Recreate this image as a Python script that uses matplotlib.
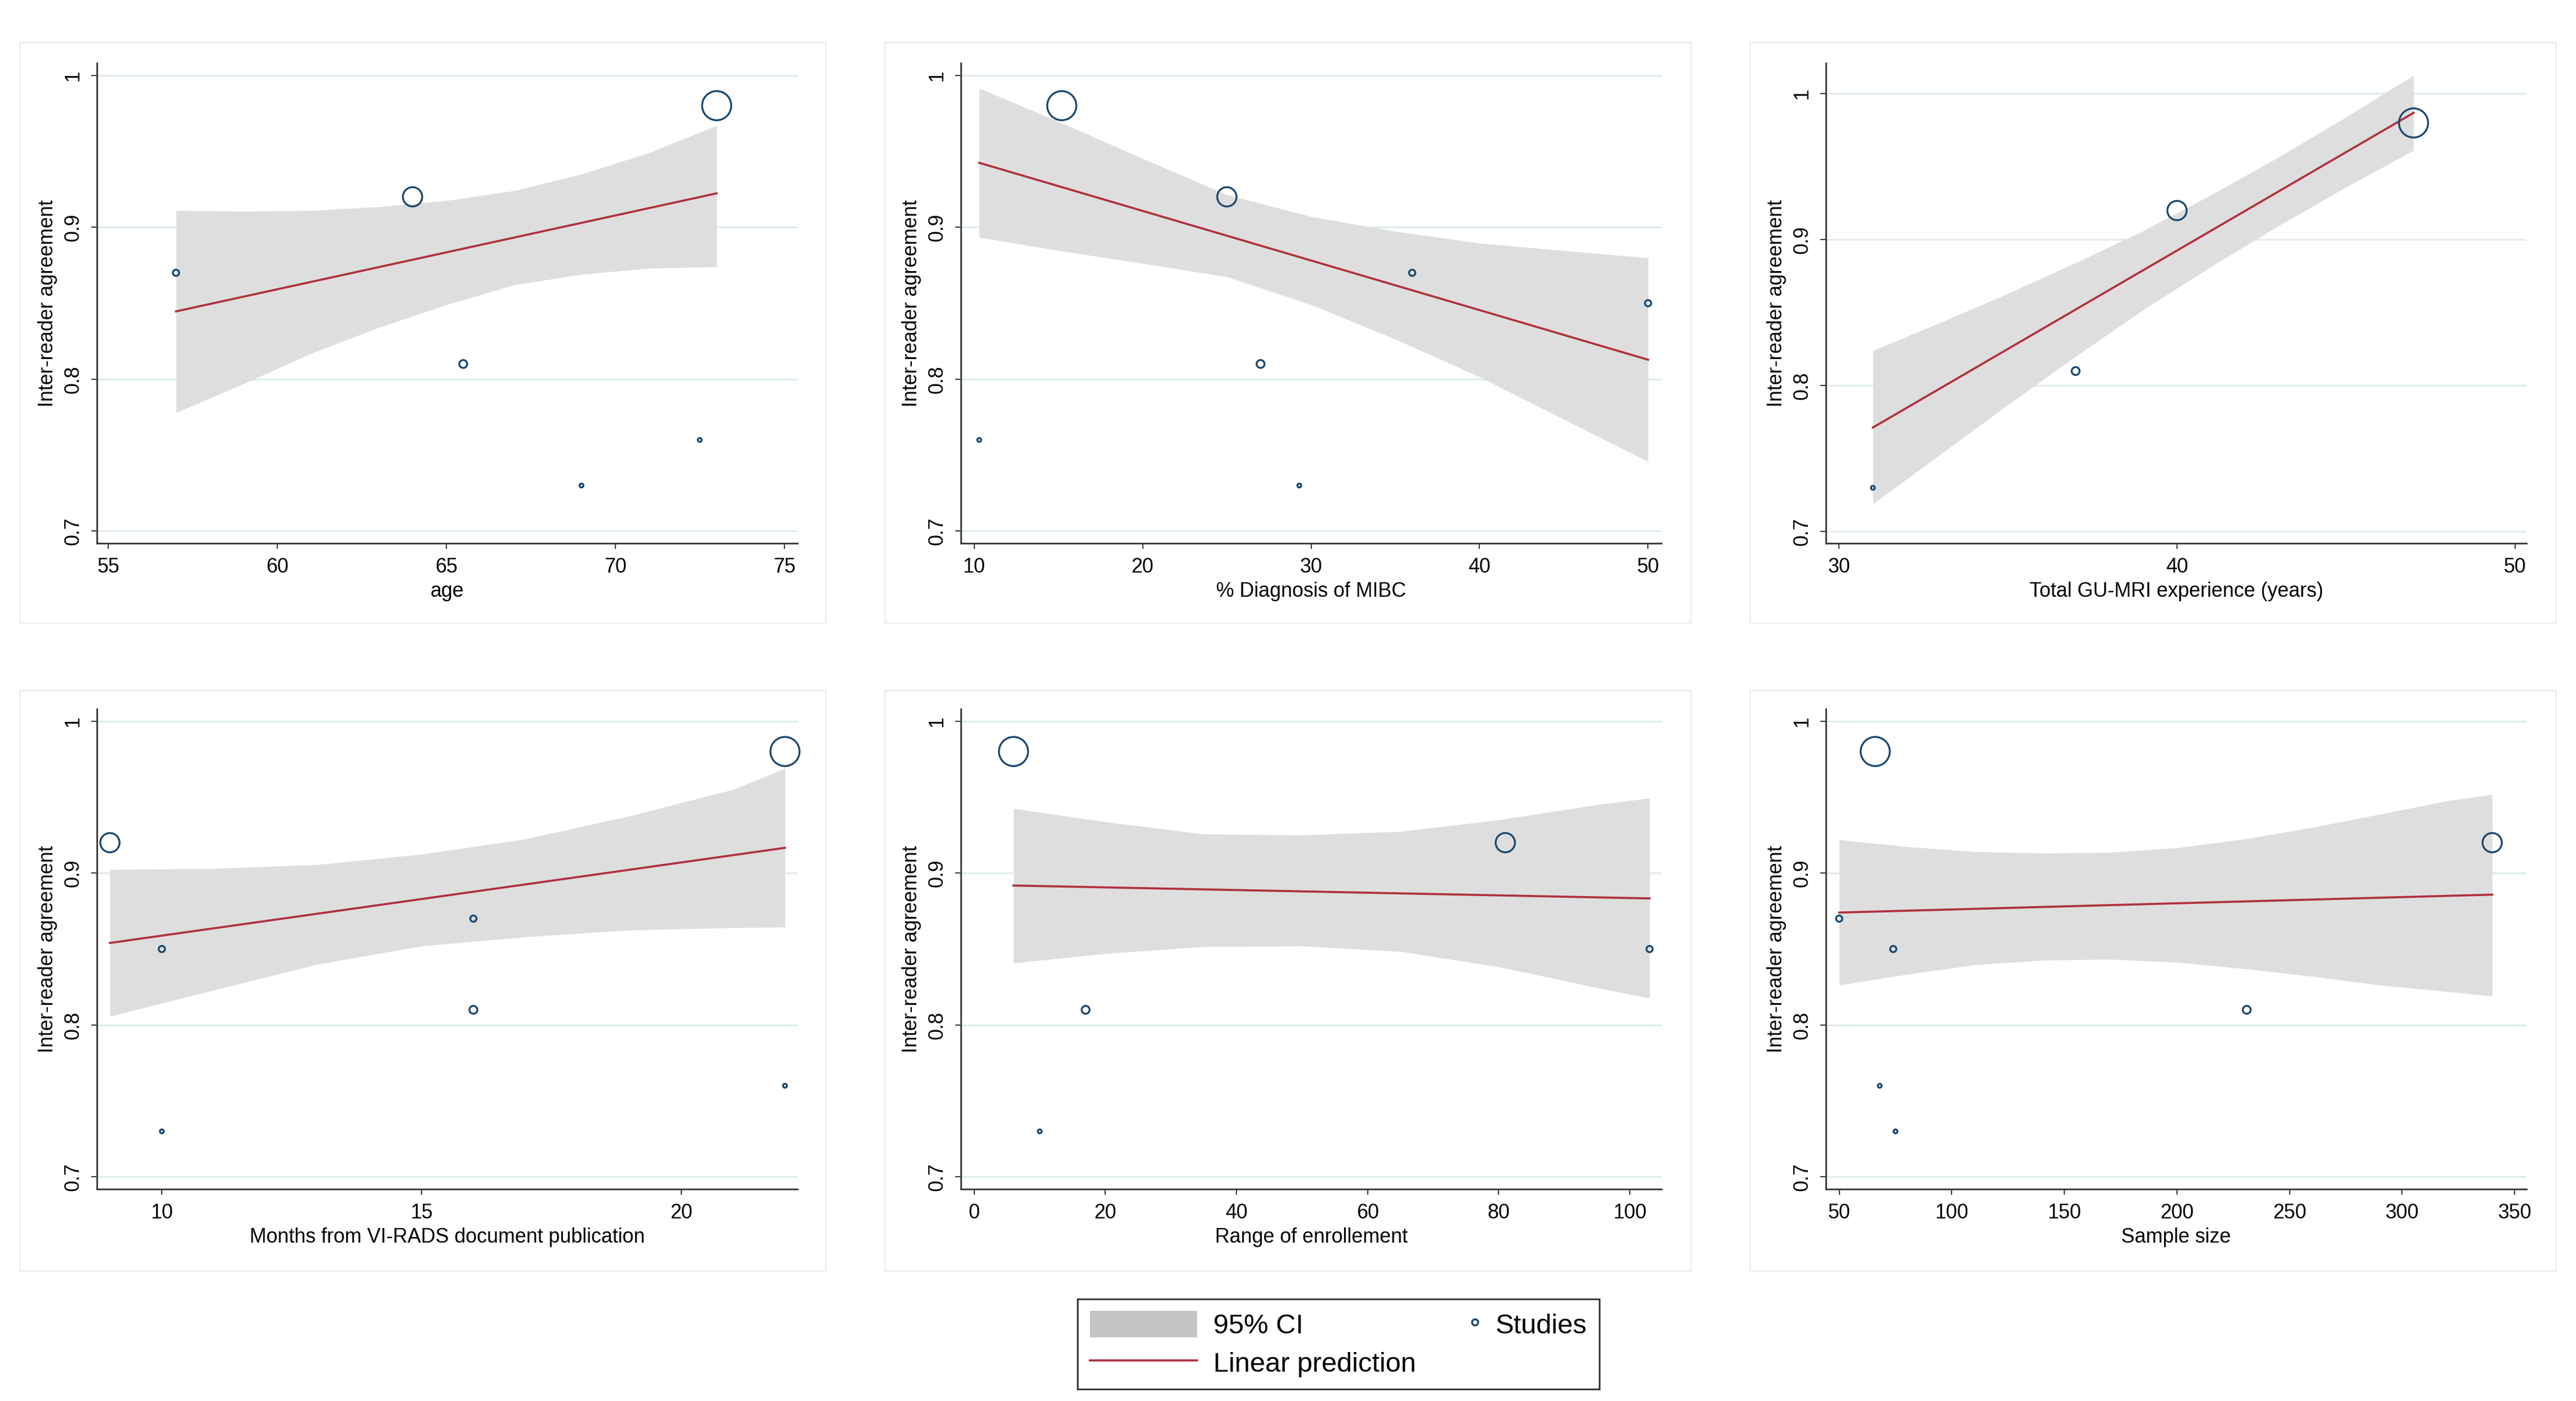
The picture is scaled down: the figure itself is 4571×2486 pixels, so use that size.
import numpy as np
import matplotlib
matplotlib.use("Agg")
import matplotlib.pyplot as plt
from matplotlib.lines import Line2D
from matplotlib.patches import Patch, Rectangle
from matplotlib.legend_handler import HandlerLine2D

plt.rcParams['font.family'] = ['Liberation Sans', 'DejaVu Sans']

nan = np.nan

# one entry per study, same order in every panel
kappa = [0.98, 0.92, 0.87, 0.85, 0.81, 0.76, 0.73]
weight = [57, 25, 2.6, 2.6, 4.2, 1, 1]

age = [73, 64, 57, nan, 65.5, 72.5, 69]
mibc = [15.2, 25, 36, 50, 27, 10.3, 29.3]
experience = [47, 40, nan, nan, 37, nan, 31]
months = [22, 9, 16, 10, 16, 22, 10]
enrollment = [6, 81, nan, 103, 17, nan, 10]
sample_size = [66, 340, 50, 74, 231, 68, 75]

# linear prediction (end points) and 95% CI
age_fit_x = [57, 73]
age_fit_y = [0.8446, 0.9223]
age_ci_x = [57, 59, 61, 63, 65, 67, 69, 71, 73]
age_ci_hi = [0.911, 0.9105, 0.911, 0.9135, 0.9175, 0.924, 0.935, 0.949, 0.967]
age_ci_lo = [0.778, 0.797, 0.817, 0.834, 0.849, 0.862, 0.869, 0.873, 0.874]

mibc_fit_x = [10.3, 50]
mibc_fit_y = [0.9424, 0.8128]
mibc_ci_x = [10.3, 15, 20, 25, 30, 35, 40, 45, 50]
mibc_ci_hi = [0.9914, 0.9696, 0.9452, 0.9214, 0.907, 0.8973, 0.8895, 0.8846, 0.8798]
mibc_ci_lo = [0.8934, 0.8846, 0.8762, 0.8674, 0.849, 0.8263, 0.8015, 0.7736, 0.7458]

exp_fit_x = [31, 47]
exp_fit_y = [0.7713, 0.9869]
exp_ci_x = [31, 33, 35, 37, 39, 41, 43, 45, 47]
exp_ci_hi = [0.824, 0.8433, 0.8632, 0.8842, 0.9061, 0.9306, 0.9565, 0.984, 1.0126]
exp_ci_lo = [0.719, 0.753, 0.787, 0.820, 0.852, 0.8815, 0.9095, 0.936, 0.9612]

mon_fit_x = [9, 22]
mon_fit_y = [0.854, 0.9166]
mon_ci_x = [9, 11, 13, 15, 17, 19, 21, 22]
mon_ci_hi = [0.9023, 0.903, 0.9056, 0.9124, 0.9224, 0.9375, 0.955, 0.9689]
mon_ci_lo = [0.8057, 0.823, 0.840, 0.852, 0.858, 0.8625, 0.864, 0.8645]

enr_fit_x = [6, 103]
enr_fit_y = [0.8918, 0.8833]
enr_ci_x = [6, 20, 35, 50, 65, 80, 95, 103]
enr_ci_hi = [0.9425, 0.9337, 0.9257, 0.925, 0.9274, 0.935, 0.945, 0.9493]
enr_ci_lo = [0.8408, 0.847, 0.8516, 0.852, 0.8484, 0.8383, 0.8245, 0.8177]

ss_fit_x = [50, 340]
ss_fit_y = [0.874, 0.8858]
ss_ci_x = [50, 80, 110, 140, 170, 200, 230, 260, 290, 320, 340]
ss_ci_hi = [0.9219, 0.9174, 0.9141, 0.9131, 0.9136, 0.9166, 0.9224, 0.930, 0.9387, 0.9475, 0.9518]
ss_ci_lo = [0.8263, 0.8333, 0.8396, 0.8426, 0.8433, 0.8413, 0.837, 0.832, 0.8263, 0.822, 0.819]

panels = [
    ("age", age, age_fit_x, age_fit_y, age_ci_x, age_ci_lo, age_ci_hi, [55, 60, 65, 70, 75], (54.66, 75.39), 1.008),
    ("% Diagnosis of MIBC", mibc, mibc_fit_x, mibc_fit_y, mibc_ci_x, mibc_ci_lo, mibc_ci_hi, [10, 20, 30, 40, 50], (9.21, 50.79), 1.008),
    ("Total GU-MRI experience (years)", experience, exp_fit_x, exp_fit_y, exp_ci_x, exp_ci_lo, exp_ci_hi, [30, 40, 50], (29.61, 50.34), 1.021),
    ("Months from VI-RADS document publication", months, mon_fit_x, mon_fit_y, mon_ci_x, mon_ci_lo, mon_ci_hi, [10, 15, 20], (8.75, 22.24), 1.008),
    ("Range of enrollement", enrollment, enr_fit_x, enr_fit_y, enr_ci_x, enr_ci_lo, enr_ci_hi, [0, 20, 40, 60, 80, 100], (-2.03, 104.8), 1.008),
    ("Sample size", sample_size, ss_fit_x, ss_fit_y, ss_ci_x, ss_ci_lo, ss_ci_hi, [50, 100, 150, 200, 250, 300, 350], (44.1, 355.2), 1.008),
]

W, H = 4571, 2486
fig = plt.figure(figsize=(W / 300, H / 300), dpi=300)

navy = "#1a476f"
red = "#b0313d"
band = "#dedede"
grid = "#e0ecee"
axcol = "#3a3a3a"

col_left = [172, 1705, 3240]
row_top = [112, 1258]
ax_w, ax_h = 1243, 852

# faint outline of each sub-graph
box_left = [35, 1570, 3105]
box_top = [75, 1225]
for r in range(2):
    for c in range(3):
        fig.patches.append(Rectangle((box_left[c] / W, 1 - (box_top[r] + 1030) / H), 1430 / W, 1030 / H,
                                     transform=fig.transFigure, fill=False, ec="#eceeee", lw=0.6))

for i, (xlabel, xs, fx, fy, cx, clo, chi, xticks, xlim, ytop) in enumerate(panels):
    r, c = divmod(i, 3)
    ax = fig.add_axes([col_left[c] / W, 1 - (row_top[r] + ax_h) / H, ax_w / W, ax_h / H])
    ax.set_axisbelow(True)
    ax.fill_between(cx, clo, chi, color=band, lw=0, zorder=1)
    ax.plot(fx, fy, color=red, lw=0.9, zorder=2)
    xv = np.array(xs, dtype=float)
    ok = ~np.isnan(xv)
    sizes = np.array(weight) * 2.7
    ax.scatter(xv[ok], np.array(kappa)[ok], s=sizes[ok], facecolors="none", edgecolors=navy,
               linewidths=0.8, zorder=3, clip_on=False)
    ax.set_xlim(*xlim)
    ax.set_ylim(0.692, ytop)
    ax.set_xticks(xticks)
    ax.set_yticks([0.7, 0.8, 0.9, 1.0])
    ax.set_yticklabels(["0.7", "0.8", "0.9", "1"], rotation=90, va="center")
    ax.grid(axis="y", color=grid, lw=0.8)
    for s in ("top", "right"):
        ax.spines[s].set_visible(False)
    for s in ("left", "bottom"):
        ax.spines[s].set_color(axcol)
        ax.spines[s].set_linewidth(0.7)
    ax.tick_params(direction="out", length=2.4, width=0.5, color=axcol, labelsize=8.6, pad=3.5)
    ax.set_xlabel(xlabel, fontsize=8.6, labelpad=2)
    ax.set_ylabel("Inter-reader agreement", fontsize=8.6, labelpad=2.5)


class RightMarker(HandlerLine2D):
    # put the single marker near the right end of the handle box, next to its text
    def get_xdata(self, legend, xdescent, ydescent, width, height, fontsize):
        x0 = -xdescent + width * 0.92
        x1 = -xdescent + width
        return [x0, x1], [0.5 * (x0 + x1)]


h_ci = Patch(facecolor="#c4c4c4", edgecolor="none", label="95% CI")
h_line = Line2D([], [], color=red, lw=0.9, label="Linear prediction")
h_pts = Line2D([], [], ls="none", marker="o", ms=2.6, mfc="none", mec=navy, mew=0.8, label="Studies")
leg = fig.legend(handles=[h_ci, h_line, h_pts], ncol=2, loc="center",
                 bbox_to_anchor=(2375 / W, 1 - 2385 / H), fontsize=11.7, frameon=True,
                 fancybox=False, edgecolor="black", handlelength=3.9, handleheight=1.1,
                 handletextpad=0.6, columnspacing=-1.6, labelspacing=0.35, borderpad=0.45,
                 handler_map={h_pts: RightMarker(numpoints=1)})
leg.get_frame().set_linewidth(0.7)

fig.savefig("out.png", dpi=300, facecolor="white")
